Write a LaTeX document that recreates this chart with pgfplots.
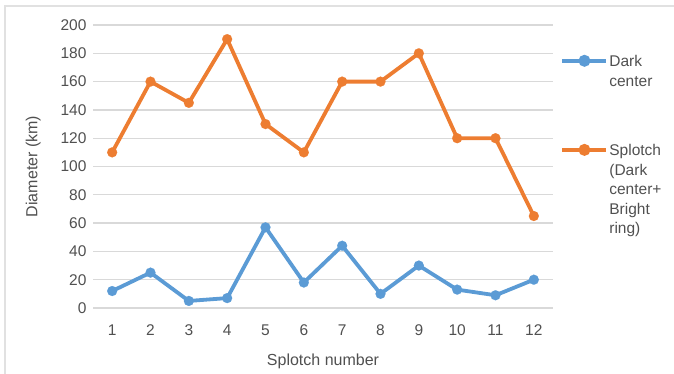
\documentclass[border=0pt]{standalone}
\usepackage{pgfplots}
\pgfplotsset{compat=1.18}
\usepackage{fontspec}
\setmainfont{Liberation Sans}
\definecolor{cblue}{HTML}{5B9BD5}
\definecolor{corange}{HTML}{ED7D31}
\definecolor{tgray}{HTML}{505050}
\definecolor{ggray}{HTML}{D9D9D9}
\begin{document}
\begin{tikzpicture}
\useasboundingbox (0pt,0pt) rectangle (674pt,373pt);
\draw[color=ggray!80, line width=1.5pt] (5pt,-5pt) rectangle (680pt,367pt);
\begin{axis}[
  at={(93pt,65pt)}, anchor=south west,
  scale only axis, width=460pt, height=283pt,
  xmin=0.5, xmax=12.5, ymin=0, ymax=200,
  xtick={1,...,12}, ytick={0,20,...,200},
  axis line style={draw=none},
  major tick length=0pt,
  ymajorgrids, grid style={ggray, line width=1.3pt},
  tick label style={font=\fontsize{15.5}{18}\selectfont, text=tgray},
  /pgf/number format/assume math mode=true,
  xticklabel style={yshift=-13pt},
  yticklabel style={xshift=-3pt},
  xlabel={Splotch number}, ylabel={Diameter (km)},
  label style={font=\fontsize{16}{19}\selectfont, text=tgray},
  xlabel style={yshift=-12pt},
  ylabel style={yshift=13pt},
  legend style={draw=none, fill=none, at={(1.016,0.915)}, anchor=north west,
    font=\fontsize{15.5}{19.4}\selectfont, text=tgray, row sep=70pt,
    legend cell align=left, inner xsep=0pt,
    nodes={inner xsep=1pt}},
  legend image code/.code={
    \draw[#1, line width=3.8pt] (0pt,0pt) -- (44pt,0pt);
    \fill[#1] (22pt,0pt) circle (4pt);
  },
]
\addplot[color=cblue, line width=3.8pt, mark=*, mark size=5pt, mark options={fill=cblue, draw=cblue, line width=0.1pt, solid}]
coordinates {(1,12) (2,25) (3,5) (4,7) (5,57) (6,18) (7,44) (8,10) (9,30) (10,13) (11,9) (12,20)};
\addlegendentry{\begin{tabular}[t]{@{}l@{}}Dark\\center\end{tabular}}
\addplot[color=corange, line width=3.8pt, mark=*, mark size=5pt, mark options={fill=corange, draw=corange, line width=0.1pt, solid}]
coordinates {(1,110) (2,160) (3,145) (4,190) (5,130) (6,110) (7,160) (8,160) (9,180) (10,120) (11,120) (12,65)};
\addlegendentry{\begin{tabular}[t]{@{}l@{}}Splotch\\(Dark\\center+\\Bright\\ring)\end{tabular}}
\end{axis}
\end{tikzpicture}
\end{document}
